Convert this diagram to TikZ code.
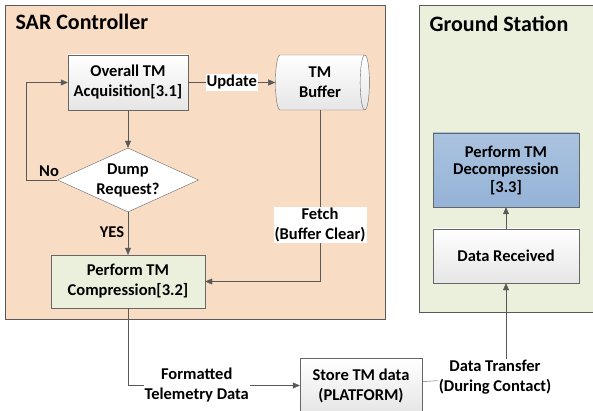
\documentclass[tikz,border=0pt]{standalone}
\usepackage{fontspec}
\setmainfont{Carlito}
\usetikzlibrary{shapes.geometric,arrows.meta}
\definecolor{peach}{HTML}{F9DCC4}
\definecolor{sage}{HTML}{EBF0DC}
\definecolor{skyblue}{HTML}{95B3D7}
\definecolor{linegray}{HTML}{595959}
\tikzset{
  boxfont/.style={font=\bfseries\fontsize{16.5}{20}\selectfont},
  proc/.style={boxfont, draw=gray!80!black, top color=white, bottom color=gray!20,
    minimum width=120pt, minimum height=55pt, inner sep=0pt, align=center},
  link/.style={draw=linegray, -{Triangle[length=7pt,width=6pt]}},
  wire/.style={draw=linegray},
  tag/.style={boxfont, fill=white, inner sep=1pt, align=center}
}
\begin{document}
\begin{tikzpicture}[x=1pt, y=-1pt]
\clip (0,0) rectangle (593,411);
\fill[white] (0,0) rectangle (593,411);
% the two areas
\draw[linegray, fill=peach] (5,5) rectangle (385,319);
\draw(12,22) node[anchor=west, font=\bfseries\fontsize{22}{26}\selectfont] (sar) {SAR Controller};
\draw[linegray, fill=sage] (419,5) rectangle (600,312);
\draw(426,24) node[anchor=west, font=\bfseries\fontsize{22}{26}\selectfont] (gs) {Ground Station};
% on board
\draw(128,82.5) node[proc] (acq) {Overall TM\\Acquisition[3.1]};
\draw(320,82.5) node[boxfont, cylinder, draw=gray!80!black, top color=white, bottom color=gray!20,
  shape aspect=0.3, minimum width=55pt, minimum height=94pt, inner sep=0pt, align=center] (buf) {TM\\Buffer};
\draw(128,180) node[boxfont, diamond, draw=gray!80!black, fill=white, aspect=2.2,
  minimum width=141pt, minimum height=64pt, inner sep=0pt, align=center] (dump) {Dump\\Request?};
\draw(128,281.5) node[proc, fill=sage, top color=sage, bottom color=sage, minimum width=154pt, minimum height=53pt] (comp) {Perform TM\\Compression[3.2]};
\draw(361,385.5) node[proc, minimum width=122pt] (store) {Store TM data\\(PLATFORM)};
% ground
\draw(506,170) node[proc, top color=skyblue!80, bottom color=skyblue, minimum width=146pt, minimum height=74pt, font=\bfseries\fontsize{16.5}{17.5}\selectfont] (dec) {Perform TM\\Decompression\\{[3.3]}};
\draw(506,256) node[proc, minimum width=146pt, minimum height=54pt] (recv) {Data Received};
% connectors
\draw[link] (acq) -- node[tag] {Update} (buf);
\draw[link] (acq) -- (dump);
\draw[link] (dump.west) -- ++(-31,0) |- (acq.west);
\draw(49,171) node[boxfont] (no) {No};
\draw[link] (dump) -- (comp);
\draw(112,232) node[boxfont] (yes) {YES};
\draw[link] (buf) |- node[tag, pos=0.335] {Fetch\\(Buffer Clear)} (comp);
\draw[link] (comp) |- node[tag, pos=0.7] {Formatted\\Telemetry Data} (store);
\draw(495,377) node[tag] (xfer) {Data Transfer\\(During Contact)};
\draw[wire] (store) -- (xfer);
\draw[link] (xfer.north -| recv.south) -- (recv);
\draw[link] (recv) -- (dec);
\end{tikzpicture}
\end{document}
